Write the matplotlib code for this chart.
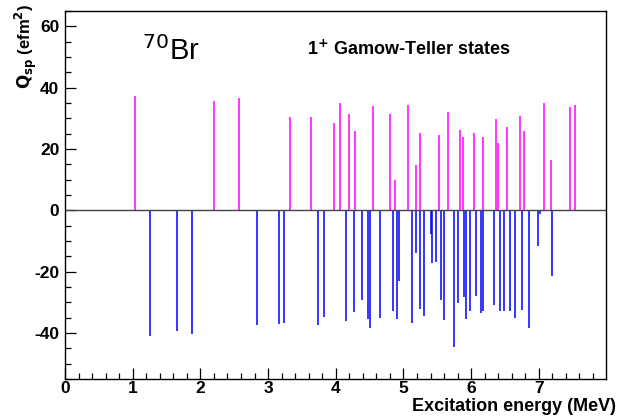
import numpy as np
import matplotlib
matplotlib.use("Agg")
import matplotlib.pyplot as plt
from matplotlib.ticker import MultipleLocator

plt.rcParams['font.family'] = ['Liberation Sans', 'DejaVu Sans']
plt.rcParams['axes.unicode_minus'] = False  # ROOT style plain hyphen

# positive Q_sp states (magenta)
pos_energy = [1.03, 2.20, 2.57, 3.32, 3.63, 3.98, 4.06, 4.20, 4.29, 4.55,
              4.80, 4.88, 5.07, 5.18, 5.25, 5.53, 5.66, 5.83, 5.88, 6.04,
              6.18, 6.36, 6.39, 6.53, 6.72, 6.78, 7.07, 7.18, 7.46, 7.54]
pos_q = [37.3, 35.5, 36.5, 30.3, 30.4, 28.4, 34.9, 31.3, 25.8, 33.9,
         31.3, 9.8, 34.2, 14.7, 25.3, 24.6, 32.1, 26.2, 23.8, 25.1,
         24.0, 29.7, 21.8, 27.3, 30.8, 25.8, 34.9, 16.3, 33.7, 34.5]

# negative Q_sp states (blue)
neg_energy = [1.25, 1.66, 1.88, 2.83, 3.16, 3.24, 3.74, 3.83, 4.15, 4.27,
              4.39, 4.47, 4.50, 4.65, 4.85, 4.91, 4.93, 5.12, 5.18, 5.24,
              5.31, 5.40, 5.42, 5.48, 5.55, 5.60, 5.75, 5.81, 5.89, 5.93,
              5.98, 6.07, 6.15, 6.17, 6.34, 6.42, 6.48, 6.57, 6.65, 6.75,
              6.85, 6.98, 7.01, 7.19]
neg_q = [-40.9, -39.5, -40.3, -37.3, -37.1, -36.8, -37.4, -34.7, -36.1, -33.1,
         -29.1, -35.5, -38.4, -35.1, -32.8, -35.4, -23.1, -36.8, -13.8, -32.1,
         -34.4, -7.7, -17.2, -16.7, -29.2, -35.9, -44.6, -30.1, -28.3, -35.4,
         -32.9, -27.8, -33.4, -32.7, -30.9, -32.7, -32.7, -32.8, -35.1, -32.6,
         -38.4, -11.7, -1.1, -21.5]

x_ticks = [0, 1, 2, 3, 4, 5, 6, 7]
y_ticks = [-40, -20, 0, 20, 40, 60]

fig = plt.figure(figsize=(6.17, 4.16), dpi=100, facecolor='w')
ax = fig.add_axes([0.1053, 0.0889, 0.8767, 0.8847])

ax.vlines(pos_energy, 0, pos_q, color='#ff00ff', linewidth=1.1)
ax.vlines(neg_energy, 0, neg_q, color='#0000ff', linewidth=1.1)
ax.axhline(0, color='#444444', linewidth=1.0)

ax.set_xlim(0, 7.99)
ax.set_ylim(-55, 65)
ax.set_xticks(x_ticks)
ax.set_yticks(y_ticks)
ax.xaxis.set_minor_locator(MultipleLocator(0.2))
ax.yaxis.set_minor_locator(MultipleLocator(5))
ax.tick_params(which='major', direction='in', length=8, width=0.9, labelsize=12.5)
ax.tick_params(axis='x', which='major', pad=1.5)
ax.tick_params(axis='y', which='major', pad=4)
ax.tick_params(which='minor', direction='in', length=4.3, width=0.9)
for lab in ax.get_xticklabels() + ax.get_yticklabels():
  lab.set_fontweight('bold')
for sp in ax.spines.values():
  sp.set_linewidth(1.0)

fig.text(0.999, 0.002, 'Excitation energy (MeV)', ha='right', va='bottom',
         fontsize=13, fontweight='bold')
fig.text(0.042, 0.99, r'$\mathbf{Q_{sp}}$ (efm$^{\mathbf{2}}$)', ha='center', va='top',
         rotation=90, fontsize=12, fontweight='bold')

ax.text(1.14, 48.9, r'$^{70}$Br', fontsize=21, ha='left', va='baseline')
ax.text(3.57, 52.5, r'1$^{\mathbf{+}}$ Gamow-Teller states', fontsize=13, fontweight='bold',
        ha='left', va='center')

fig.savefig('out.png', dpi=100)
